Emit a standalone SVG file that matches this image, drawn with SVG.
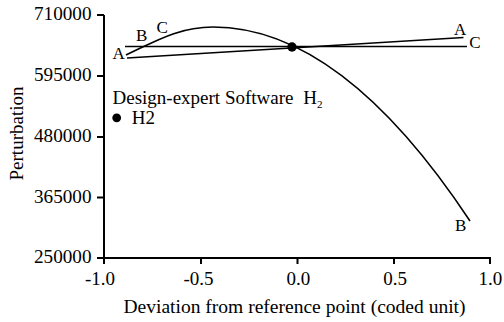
<svg xmlns="http://www.w3.org/2000/svg" width="504" height="322" viewBox="0 0 504 322">
<style>
.ax{stroke:#000;stroke-width:2;fill:none;}
.cv{stroke:#000;stroke-width:1.6;fill:none;}
</style>
<rect width="504" height="322" fill="#fff"/>
<g id="axes">
<path class="ax" d="M104,15 V264 M104,258 H490 V264 M97,15 H104 M97,76 H104 M97,137 H104 M97,197.5 H104 M97,258 H104 M201,258 V264 M297.5,258 V264 M394,258 V264"/>
</g>
<g id="y-labels" font-family="Liberation Serif" font-size="19" fill="#000">
<text x="34" y="19.5" textLength="57.5" lengthAdjust="spacingAndGlyphs">710000</text>
<text x="34" y="80.5" textLength="57.5" lengthAdjust="spacingAndGlyphs">595000</text>
<text x="34" y="141.5" textLength="57.5" lengthAdjust="spacingAndGlyphs">480000</text>
<text x="34" y="202.5" textLength="57.5" lengthAdjust="spacingAndGlyphs">365000</text>
<text x="34" y="263.3" textLength="57.5" lengthAdjust="spacingAndGlyphs">250000</text>
</g>
<g id="x-labels" font-family="Liberation Serif" font-size="19" fill="#000">
<text x="85" y="284.5">-1.0</text>
<text x="183.5" y="284.5">-0.5</text>
<text x="286.5" y="284.5">0.0</text>
<text x="383.3" y="284.5">0.5</text>
<text x="478.5" y="284.5">1.0</text>
</g>
<g id="titles" font-family="Liberation Serif" font-size="19" fill="#000">
<text x="123.5" y="313.3" textLength="342" lengthAdjust="spacingAndGlyphs">Deviation from reference point (coded unit)</text>
<text transform="translate(23,133.5) rotate(-90)" text-anchor="middle">Perturbation</text>
</g>
<g id="legend" font-family="Liberation Serif" font-size="19" fill="#000">
<text x="112.5" y="103.5">Design-expert Software<tspan x="303.3">H</tspan><tspan font-size="11" dy="4">2</tspan></text>
<circle cx="116.7" cy="117.8" r="4.4" fill="#000"/>
<text x="131.7" y="124.3">H2</text>
</g>
<g id="connectors">
<path id="curve-A" class="cv" d="M127,58 L463.5,37.5"/>
<path id="curve-B" class="cv" d="M126,55 C154,42 178,27 213,27 Q341.5,27 470,221"/>
<path id="curve-C" class="cv" d="M125,46.5 L467,46.5"/>
</g>
<g id="reference-point">
<circle cx="292" cy="47" r="4.7" fill="#000"/>
</g>
<g id="curve-labels" font-family="Liberation Serif" font-size="17" fill="#000">
<text x="112.5" y="59.3">A</text>
<text x="136" y="40.7">B</text>
<text x="156.5" y="33.3">C</text>
<text x="454" y="35">A</text>
<text x="469.3" y="48.3">C</text>
<text x="455" y="230.7">B</text>
</g>
</svg>
